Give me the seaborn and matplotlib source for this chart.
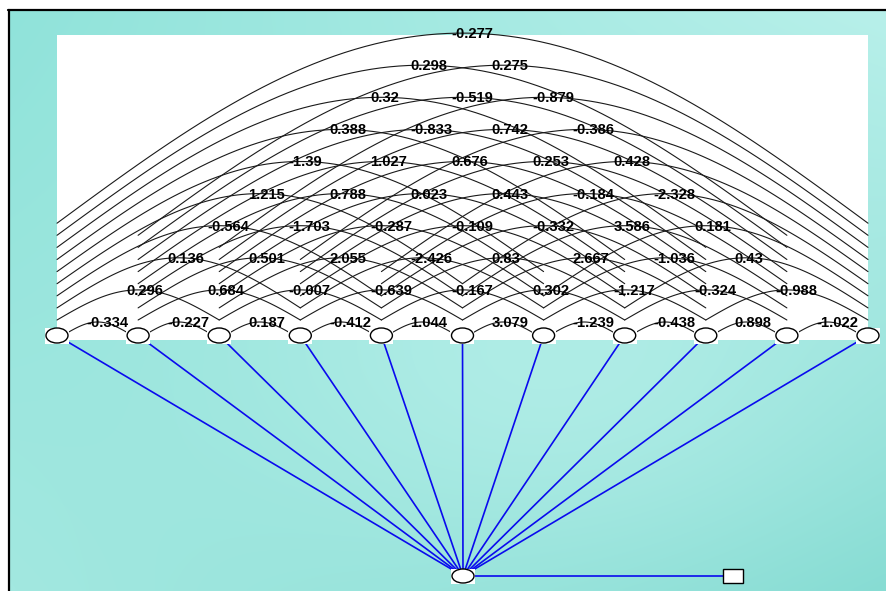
import numpy as np
import pandas as pd
import matplotlib
matplotlib.use("Agg")
import matplotlib.pyplot as plt
from matplotlib.patches import Ellipse, Rectangle
import seaborn as sns

sns.set_style("white")
plt.rcParams["font.family"] = ["Liberation Sans", "DejaVu Sans"]

# covariance estimates, grouped by how many nodes apart the pair is
cov_d1 = [-0.334, -0.227, 0.187, -0.412, 1.044, 3.079, -1.239, -0.438, 0.898, -1.022]
cov_d2 = [0.296, 0.684, -0.007, -0.639, -0.167, 0.302, -1.217, -0.324, -0.988]
cov_d3 = [0.136, 0.501, 2.055, -2.426, 0.83, 2.667, -1.036, 0.43]
cov_d4 = [-0.564, -1.703, -0.287, -0.109, -0.332, 3.586, 0.181]
cov_d5 = [1.215, 0.788, 0.023, 0.443, -0.184, -2.328]
cov_d6 = [-1.39, 1.027, 0.676, 0.253, 0.428]
cov_d7 = [0.388, -0.833, 0.742, -0.386]
cov_d8 = [0.32, -0.519, -0.879]
cov_d9 = [0.298, 0.275]
cov_d10 = [-0.277]
cov_by_dist = [cov_d1, cov_d2, cov_d3, cov_d4, cov_d5, cov_d6, cov_d7, cov_d8, cov_d9, cov_d10]

n_nodes = 11

# layout (pixel space)
W, H = 887, 591
node_x = 57 + np.arange(n_nodes) * 81.1
node_y = 335.5
bottom_x, bottom_y = 463, 576
square_x = 733

fig = plt.figure(figsize=(W / 100, H / 100), dpi=100)
ax = fig.add_axes([0, 0, 1, 1])

# teal gradient background: corner colours blended, lighter band in the middle
gx, gy = np.meshgrid(np.linspace(0, 1, 220), np.linspace(0, 1, 150))
tl = np.array([0x90, 0xe3, 0xda]) / 255
tr = np.array([0xb8, 0xf0, 0xea]) / 255
bl = np.array([0xa2, 0xe8, 0xe0]) / 255
br = np.array([0x84, 0xdb, 0xd2]) / 255
gxe, gye = gx[..., None], gy[..., None]
bg = (tl * (1 - gxe) * (1 - gye) + tr * gxe * (1 - gye)
      + bl * (1 - gxe) * gye + br * gxe * gye)
bump = np.exp(-(((gx - 0.62) / 0.35) ** 2 + ((gy - 0.6) / 0.35) ** 2))[..., None]
bg = bg * (1 - 0.75 * bump) + np.array([0xb6, 0xef, 0xe9]) / 255 * 0.75 * bump
ax.imshow(bg, extent=[9, W, H, 10], aspect="auto", zorder=0, interpolation="bilinear")
ax.plot([8, W], [10, 10], color="black", lw=1.6, zorder=6)
ax.plot([9, 9], [10, H], color="black", lw=1.6, zorder=6)

# white panel behind the covariance arcs
ax.add_patch(Rectangle((57, 35), 868 - 57, 340 - 35, facecolor="white", edgecolor="none", zorder=1))

# build arc curves
rows = []
arc_id = 0
for d, vals in enumerate(cov_by_dist, start=1):
    apex = 322 - 32.1 * (d - 1)
    for k, v in enumerate(vals):
        xa, xb = node_x[k], node_x[k + d]
        if d == 1:
            xa, xb, ys = xa + 10, xb - 10, 333
        else:
            ys = 320 - 12.1 * (d - 2)
        mid = (xa + xb) / 2
        half = (xb - xa) / 2
        xs = np.linspace(xa, xb, 80)
        u = np.abs(xs - mid) / half
        yv = ys - (ys - apex) * np.cos(np.pi / 2 * u)
        for px, py in zip(xs, yv):
            rows.append({"arc": arc_id, "x": px, "y": py})
        arc_id += 1
        ax.text((node_x[k] + node_x[k + d]) / 2 - 11.5, apex + 5.0, str(v),
                ha="left", va="baseline", fontsize=10.6, fontweight="bold",
                color="black", zorder=3)
arcs = pd.DataFrame(rows)
sns.lineplot(data=arcs, x="x", y="y", units="arc", estimator=None, sort=False,
             color="#1a1a1a", lw=0.8, ax=ax, zorder=2)

# blue loading lines to the bottom node
spokes = []
for i in range(n_nodes):
    spokes.append({"line": i, "x": node_x[i], "y": node_y})
    spokes.append({"line": i, "x": bottom_x, "y": bottom_y})
spokes.append({"line": n_nodes, "x": bottom_x, "y": bottom_y})
spokes.append({"line": n_nodes, "x": square_x, "y": bottom_y})
sns.lineplot(data=pd.DataFrame(spokes), x="x", y="y", units="line", estimator=None,
             sort=False, color="#0a0aee", lw=1.2, ax=ax, zorder=2)
ax.set_xlim(0, W)
ax.set_ylim(H, 0)
ax.axis("off")

# nodes
for x in node_x:
    ax.add_patch(Rectangle((x - 12, node_y - 8), 24, 16, facecolor="white", edgecolor="none", zorder=4))
    ax.add_patch(Ellipse((x, node_y), 22, 15, facecolor="white", edgecolor="black", lw=1.0, zorder=5))
ax.add_patch(Rectangle((bottom_x - 12, bottom_y - 7.5), 24, 15, facecolor="white", edgecolor="none", zorder=4))
ax.add_patch(Ellipse((bottom_x, bottom_y), 22, 14, facecolor="white", edgecolor="black", lw=1.0, zorder=5))
ax.add_patch(Rectangle((square_x - 10, bottom_y - 7), 20, 14, facecolor="white", edgecolor="black", lw=1.0, zorder=5))

fig.savefig("out.png", dpi=100)
